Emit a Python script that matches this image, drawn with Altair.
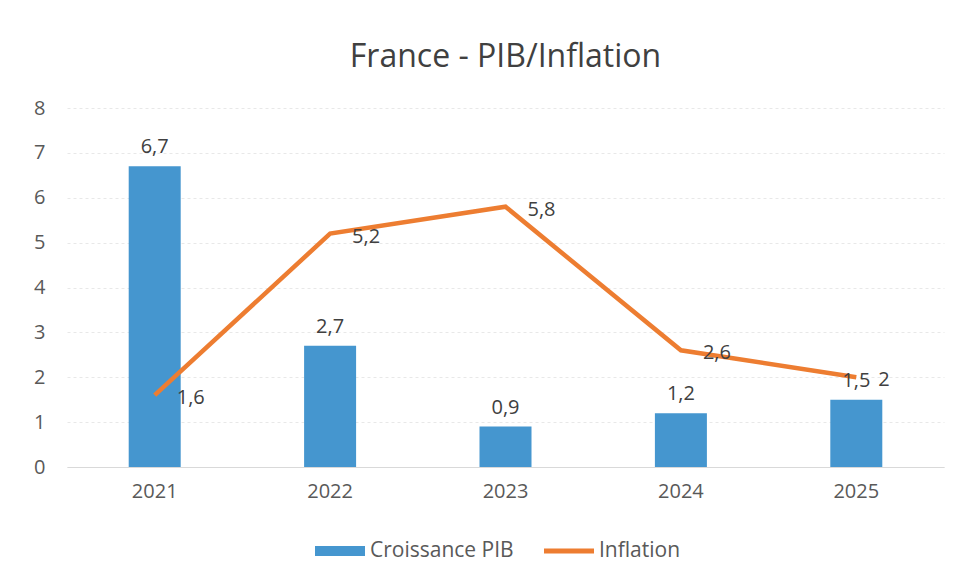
import altair as alt
import pandas as pd

years = ["2021", "2022", "2023", "2024", "2025"]
pib = [6.7, 2.7, 0.9, 1.2, 1.5]
inflation = [1.6, 5.2, 5.8, 2.6, 2.0]
pib_labels = ["6,7", "2,7", "0,9", "1,2", "1,5"]
infl_labels = ["1,6", "5,2", "5,8", "2,6", "2"]
series = ["Croissance PIB", "Inflation"]
colors = ["#4596cf", "#ed7d31"]

bars_df = pd.DataFrame({"year": years, "value": pib, "label": pib_labels})
line_df = pd.DataFrame({"year": years, "value": inflation, "label": infl_labels})
legend_df = pd.DataFrame({"year": years[:2], "value": [0, 0], "series": series})

FONT = "Open Sans"
TXT = "#595959"
LBL = "#404040"

x = alt.X("year:N", scale=alt.Scale(paddingInner=0, paddingOuter=0),
          axis=alt.Axis(title=None, labelAngle=0, ticks=False, domainColor="#d9d9d9",
                        labelPadding=14, labelFontSize=20, labelColor=TXT, labelFont=FONT))
y = alt.Y("value:Q", scale=alt.Scale(domain=[0, 8], nice=False),
          axis=alt.Axis(title=None, values=list(range(0, 9)), ticks=False, domain=False,
                        grid=True, gridColor="#e8e8e8", gridDash=[3, 3], labelPadding=22,
                        labelFontSize=20, labelColor=TXT, labelFont=FONT))

bars = alt.Chart(bars_df).mark_bar(size=52, color=colors[0]).encode(x=x, y=y)
bar_text = alt.Chart(bars_df).mark_text(dy=-19, baseline="middle", fontSize=20, font=FONT,
                                         color=LBL).encode(x=x, y=y, text="label:N")
line = alt.Chart(line_df).mark_line(strokeWidth=4.5, color=colors[1]).encode(x=x, y=y)
line_text = alt.Chart(line_df).mark_text(align="left", baseline="middle", dx=22, dy=3,
                                          fontSize=20, font=FONT, color=LBL).encode(
    x=x, y=y, text="label:N")

leg = alt.Legend(title=None, orient="none", direction="horizontal", legendX=248, legendY=418,
                 labelFontSize=21, labelColor=TXT, labelFont=FONT,
                 symbolOpacity=1, symbolSize=2500, columnPadding=30, labelOffset=5,
                 symbolStrokeWidth=0)
legend_layer = alt.Chart(legend_df).mark_point(filled=True, opacity=0).encode(
    x=x, y=y,
    color=alt.Color("series:N", scale=alt.Scale(domain=series, range=colors), legend=leg),
    shape=alt.Shape("series:N", scale=alt.Scale(domain=series,
                    range=["M-1,-0.2H1V0.2H-1Z", "M-1,-0.1H1V0.1H-1Z"]), legend=leg),
)

chart = alt.layer(bars, line, bar_text, line_text, legend_layer).properties(
    width=877, height=359,
    background="white",
    title=alt.TitleParams("France - PIB/Inflation", fontSize=32, font=FONT, fontWeight="normal",
                          color=LBL, offset=24, anchor="middle"),
    padding={"left": 25, "top": 33, "right": 5, "bottom": 5},
).configure_view(strokeWidth=0)

chart.save("out.html", embed_options={"renderer": "svg", "actions": False})
